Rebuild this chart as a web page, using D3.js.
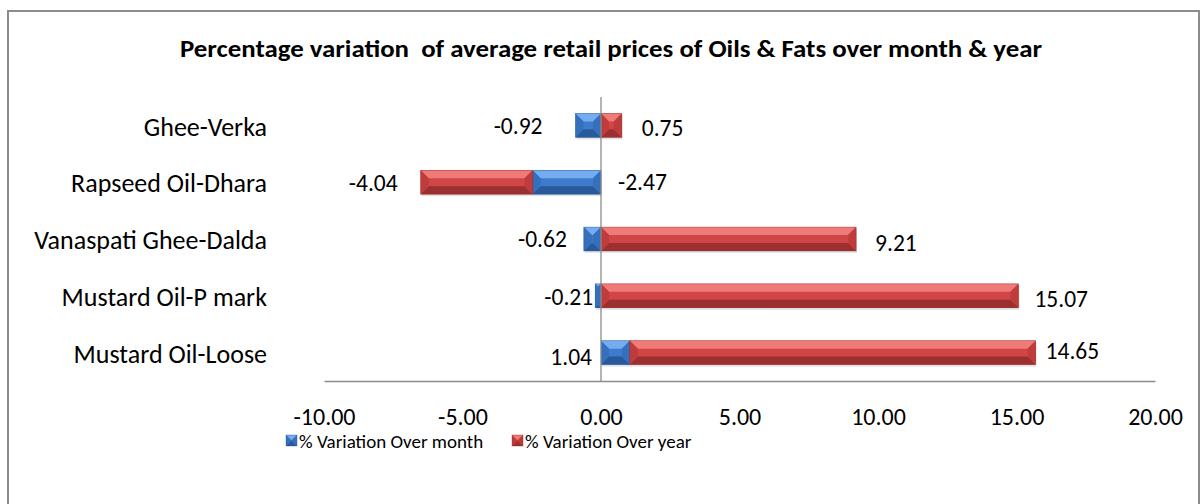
<!DOCTYPE html>
<html>
<head>
<meta charset="utf-8">
<script src="https://cdn.jsdelivr.net/npm/d3@7"></script>
<style>
  body { margin: 0; background: #fff; }
  svg { display: block; font-family: Carlito, Lato, "Liberation Sans", sans-serif; }
  .cat { font-size: 26px; fill: #000; }
  .tick-label { font-size: 24px; fill: #000; }
  .val { font-size: 23.5px; fill: #000; }
  .legend-text { font-size: 19px; fill: #000; }
</style>
</head>
<body>
<svg id="chart" width="1202" height="504"></svg>
<script>
var categories = ['Ghee-Verka', 'Rapseed Oil-Dhara', 'Vanaspati Ghee-Dalda', 'Mustard Oil-P mark', 'Mustard Oil-Loose'];
var overMonth = [-0.92, -2.47, -0.62, -0.21, 1.04];
var overYear = [0.75, -4.04, 9.21, 15.07, 14.65];
var seriesNames = ['% Variation Over month', '% Variation Over year'];
var xTicks = [-10, -5, 0, 5, 10, 15, 20];

// where each data label sits, relative to its bar (Excel labels were dragged by hand)
var monthLabelPos = [
  { side: 'leftOf', ref: 'self', dx: -33, dy: 0 },
  { side: 'rightOf', ref: 'zero', dx: 17, dy: 0 },
  { side: 'leftOf', ref: 'self', dx: -17, dy: 0 },
  { side: 'leftOf', ref: 'self', dx: -2, dy: 1 },
  { side: 'leftOf', ref: 'zero', dx: -9, dy: 4 }
];
var yearLabelPos = [
  { dx: 20, dy: 2 },
  { dx: -23, dy: 1 },
  { dx: 19, dy: 4 },
  { dx: 16, dy: 3 },
  { dx: 10, dy: -2 }
];

var palette = {
  month: { base: '#3d7ccc', top: '#74acef', side: '#3570bd', bottom: '#28599a', edge: '#23508c' },
  year: { base: '#d04545', top: '#f07a78', side: '#c03c3c', bottom: '#9c2f2f', edge: '#8a2626' }
};

var locale = d3.formatLocale({ decimal: '.', thousands: ',', grouping: [3], currency: ['', ''], minus: '-' });
var fmt = locale.format('.2f');

var svg = d3.select('#chart');

// outer frame
svg.append('rect')
  .attr('x', 8).attr('y', 11)
  .attr('width', 1191).attr('height', 500)
  .attr('fill', '#fff')
  .attr('stroke', '#8c8c8c')
  .attr('stroke-width', 2);

var title = svg.append('text')
  .attr('x', 611).attr('y', 57)
  .attr('text-anchor', 'middle')
  .attr('font-weight', 'bold')
  .attr('font-size', 23.5)
  .attr('xml:space', 'preserve')
  .text('Percentage variation  of average retail prices of Oils & Fats over month & year');
title.attr('textLength', 862).attr('lengthAdjust', 'spacingAndGlyphs');

var x = d3.scaleLinear().domain([-10, 20]).range([324, 1155]);
var y = d3.scaleBand().domain(categories).range([97, 381]).paddingInner(0.58).paddingOuter(0.29);

// stacking: negatives stack leftwards, positives rightwards
var rows = categories.map(function (c, i) {
  var pos = 0, neg = 0;
  function place(v) {
    var s, e;
    if (v >= 0) { s = pos; e = pos + v; pos = e; }
    else { s = neg; e = neg + v; neg = e; }
    return [s, e];
  }
  return { cat: c, i: i, month: place(overMonth[i]), year: place(overYear[i]) };
});

var plot = svg.append('g');

function bevelBar(g, x0, x1, yTop, h, col, shadow) {
  var a = Math.min(x0, x1), b = Math.max(x0, x1);
  var w = b - a;
  if (w <= 0) return;
  var bv = Math.min(8, w / 2, h / 2);
  var yB = yTop + h;
  if (shadow) {
    g.append('rect').attr('x', a + 1).attr('y', yTop + 2).attr('width', w).attr('height', h)
      .attr('fill', '#000').attr('opacity', 0.12);
  }
  g.append('rect').attr('x', a).attr('y', yTop).attr('width', w).attr('height', h)
    .attr('fill', col.base);
  g.append('polygon')
    .attr('points', [[a, yTop], [b, yTop], [b - bv, yTop + bv], [a + bv, yTop + bv]].join(' '))
    .attr('fill', col.top);
  g.append('polygon')
    .attr('points', [[a, yB], [b, yB], [b - bv, yB - bv], [a + bv, yB - bv]].join(' '))
    .attr('fill', col.bottom);
  g.append('polygon')
    .attr('points', [[a, yTop], [a + bv, yTop + bv], [a + bv, yB - bv], [a, yB]].join(' '))
    .attr('fill', col.side);
  g.append('polygon')
    .attr('points', [[b, yTop], [b - bv, yTop + bv], [b - bv, yB - bv], [b, yB]].join(' '))
    .attr('fill', col.side);
  g.append('rect').attr('x', a).attr('y', yTop).attr('width', w).attr('height', h)
    .attr('fill', 'none').attr('stroke', col.edge).attr('stroke-width', 0.6).attr('opacity', 0.6);
}

var bars = plot.selectAll('g.row').data(rows).enter().append('g').attr('class', 'row');
bars.each(function (d) {
  var g = d3.select(this);
  var yt = y(d.cat), h = y.bandwidth();
  bevelBar(g, x(d.month[0]), x(d.month[1]), yt, h, palette.month, true);
  bevelBar(g, x(d.year[0]), x(d.year[1]), yt, h, palette.year, true);
});

// zero line on top of bars
plot.append('line')
  .attr('x1', x(0)).attr('x2', x(0))
  .attr('y1', 97).attr('y2', 381)
  .attr('stroke', '#8c8c8c').attr('stroke-width', 1.3);

// data labels
rows.forEach(function (d, i) {
  var cy = y(d.cat) + y.bandwidth() / 2;
  var mp = monthLabelPos[i];
  var refX = mp.ref === 'zero' ? x(0) : x(Math.min(d.month[0], d.month[1]));
  plot.append('text').attr('class', 'val')
    .attr('x', refX + mp.dx).attr('y', cy + mp.dy)
    .attr('dy', '0.35em')
    .attr('text-anchor', mp.side === 'leftOf' ? 'end' : 'start')
    .text(fmt(overMonth[i]));
  var yp = yearLabelPos[i];
  var endV = d.year[1];
  plot.append('text').attr('class', 'val')
    .attr('x', x(endV) + yp.dx).attr('y', cy + yp.dy)
    .attr('dy', '0.35em')
    .attr('text-anchor', endV < 0 ? 'end' : 'start')
    .text(fmt(overYear[i]));
});

// category labels
svg.selectAll('text.cat').data(categories).enter().append('text')
  .attr('class', 'cat')
  .attr('x', 267)
  .attr('y', function (c) { return y(c) + y.bandwidth() / 2 + 1; })
  .attr('dy', '0.35em')
  .attr('text-anchor', 'end')
  .text(function (c) { return c; });

// x axis
var axis = svg.append('g').attr('transform', 'translate(0,381)')
  .call(d3.axisBottom(x).tickValues(xTicks).tickSize(0).tickFormat(fmt));
axis.select('.domain').attr('stroke', '#8c8c8c').attr('stroke-width', 1.3);
axis.selectAll('.tick text')
  .attr('class', 'tick-label')
  .attr('font-family', null).attr('font-size', null)
  .attr('y', 36).attr('dy', '0.35em');
axis.attr('font-family', null).attr('font-size', null);

// legend
var legend = svg.append('g').attr('transform', 'translate(286,441)');
var legendKeys = [palette.month, palette.year];
seriesNames.forEach(function (name, i) {
  var g = legend.append('g').attr('transform', 'translate(' + (i === 0 ? 0 : 226) + ',0)');
  bevelBar(g, 0, 11, -6, 11, legendKeys[i], false);
  g.append('text').attr('class', 'legend-text')
    .attr('x', 13).attr('y', 0).attr('dy', '0.35em')
    .text(name);
});
</script>
</body>
</html>
